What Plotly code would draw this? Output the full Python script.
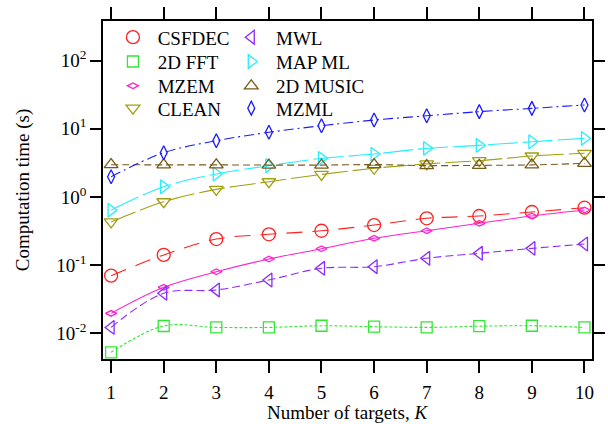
import plotly.graph_objects as go

# Number of targets
K = [1, 2, 3, 4, 5, 6, 7, 8, 9, 10]

# Computation time (s) per method
csfdec = [0.070, 0.141, 0.241, 0.283, 0.319, 0.387, 0.486, 0.525, 0.601, 0.695]
fft2d = [0.00526, 0.0128, 0.0122, 0.0122, 0.0129, 0.0125, 0.0122, 0.0127, 0.0129, 0.0122]
mzem = [0.0196, 0.0472, 0.080, 0.123, 0.174, 0.247, 0.319, 0.410, 0.525, 0.643]
clean = [0.43, 0.85, 1.29, 1.67, 2.14, 2.63, 3.05, 3.40, 3.98, 4.36]
mwl = [0.0122, 0.0386, 0.0432, 0.0605, 0.0898, 0.0948, 0.126, 0.149, 0.176, 0.204]
mapml = [0.64, 1.41, 2.17, 2.87, 3.68, 4.25, 5.16, 5.71, 6.45, 7.23]
music2d = [2.97, 2.95, 2.95, 2.93, 2.93, 2.98, 2.88, 2.90, 2.95, 3.10]
mzml = [1.98, 4.45, 6.67, 8.86, 11.07, 13.4, 15.5, 17.8, 19.9, 22.3]

y_tickvals = [0.01, 0.1, 1, 10, 100]
y_ticktext = ["10<sup>-2</sup>", "10<sup>-1</sup>", "10<sup>0</sup>", "10<sup>1</sup>", "10<sup>2</sup>"]

FONT = "Liberation Serif, Times New Roman, serif"
NBSP = "\u00a0"

# name, values, colour, symbol, marker size, dash
series = [
    ("CSFDEC", csfdec, "#FF2020", "circle-open", 13, "16px,10px"),
    ("2D FFT", fft2d, "#33E633", "square-open", 11, "3px,2px"),
    ("MZEM", mzem, "#FF22CC", "diamond-wide-open", 8, "solid"),
    ("CLEAN", clean, "#A0A010", "triangle-down-open", 12, "26px,5px"),
    ("MWL", mwl, "#8A2BFF", "triangle-left-open", 12, "8px,4px"),
    ("MAP ML", mapml, "#22EEFF", "triangle-right-open", 12, "30px,5px"),
    ("2D MUSIC", music2d, "#7A5A1A", "triangle-up-open", 12, "7px,4px"),
    ("MZML", mzml, "#1A1AFF", "diamond-tall-open", 10, "10px,4px,2px,4px"),
]

# legend grid: two columns of four entries, each entry its own legend box
leg_cols = [0.0203, 0.2623]
leg_rows = [1.008, 0.936, 0.864, 0.798]

fig = go.Figure()

for name, vals, color, symbol, size, dash in series:
    fig.add_trace(go.Scatter(
        x=K, y=vals, mode="lines+markers", name=name, showlegend=False,
        line=dict(color=color, width=1.1, dash=dash, shape="spline", smoothing=1.0),
        marker=dict(symbol=symbol, size=size, color=color, line=dict(color=color, width=1.3)),
    ))

legend_layout = {}
for i, (name, vals, color, symbol, size, dash) in enumerate(series):
    key = "legend" if i == 0 else f"legend{i + 1}"
    fig.add_trace(go.Scatter(
        x=[None], y=[None], mode="markers", name=NBSP + name, legend=key,
        marker=dict(symbol=symbol, size=size, color=color, line=dict(color=color, width=1.3)),
    ))
    legend_layout[key] = dict(
        x=leg_cols[i // 4], y=leg_rows[i % 4], xanchor="left", yanchor="top",
        bgcolor="rgba(0,0,0,0)", font=dict(family=FONT, size=19), itemwidth=30,
    )

axis_common = dict(
    showline=True, linecolor="black", linewidth=1.5, mirror="allticks",
    ticks="outside", tickwidth=1.5, tickcolor="black",
    showgrid=False, zeroline=False,
    tickfont=dict(family=FONT, size=19, color="black"),
)

fig.update_layout(
    width=608, height=424,
    margin=dict(l=103, r=3, t=21, b=65),
    paper_bgcolor="white", plot_bgcolor="white",
    font=dict(family=FONT, size=19, color="black"),
    xaxis=dict(
        range=[0.846, 10.143], tickvals=K, ticklen=12, ticklabelstandoff=3,
        **axis_common,
    ),
    yaxis=dict(
        type="log", range=[-2.377, 2.58], tickvals=y_tickvals, ticktext=y_ticktext,
        ticklen=11,
        title=dict(text="Computation time (s)", font=dict(family=FONT, size=19), standoff=22),
        **axis_common,
    ),
    annotations=[dict(
        text="Number of targets, <i>K</i>", xref="paper", yref="paper",
        x=0.5, y=0, xanchor="center", yanchor="middle", yshift=-53.5, showarrow=False,
        font=dict(family=FONT, size=19, color="black"),
    )],
    **legend_layout,
)

fig.write_html("out.html")
